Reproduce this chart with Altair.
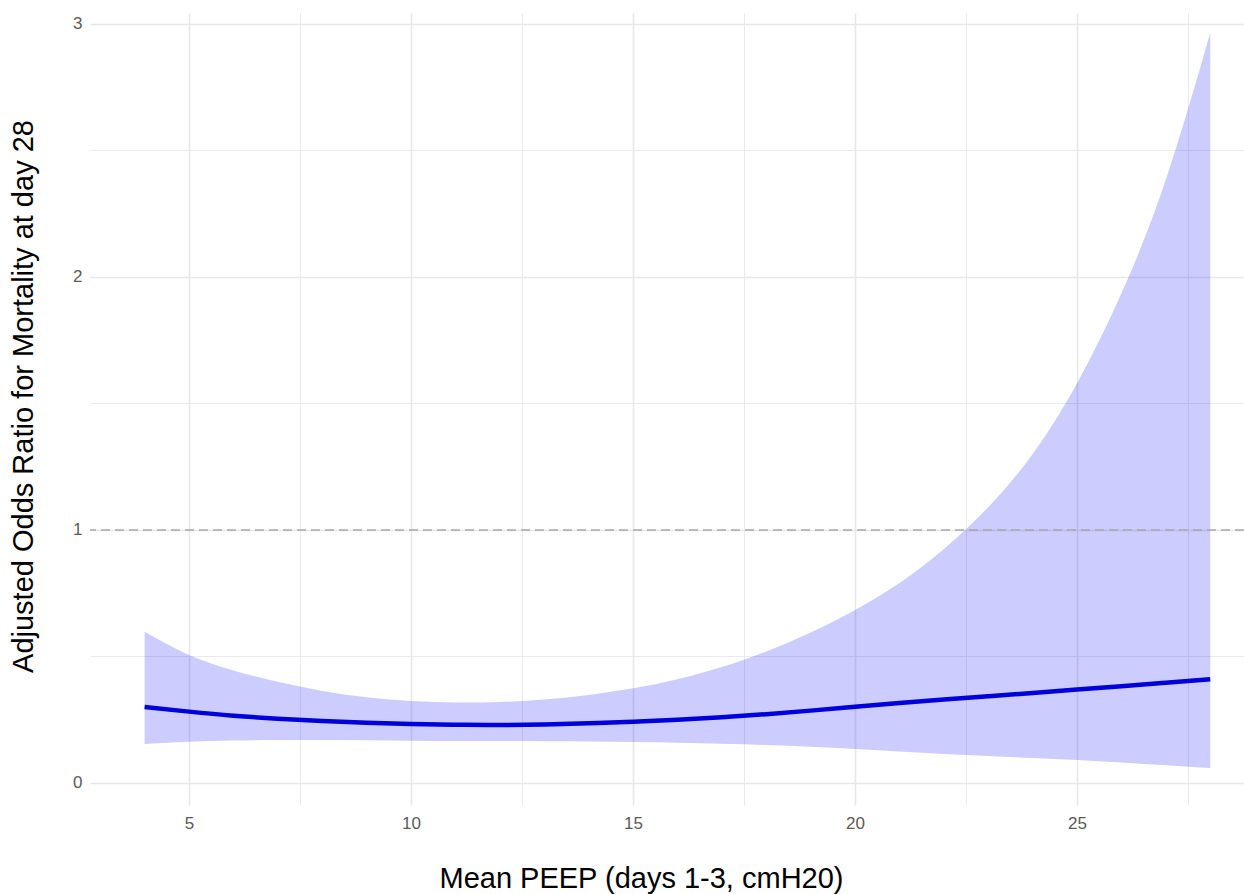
import altair as alt
import pandas as pd

# Mean PEEP (x) and adjusted odds ratio estimates
peep = [4, 5, 6, 7, 8, 9, 10, 11, 12, 13, 14, 15, 16, 17, 18, 19, 20, 21, 22, 23, 24, 25, 26, 27, 28]
odds = [0.300, 0.282, 0.266, 0.254, 0.245, 0.238, 0.233, 0.230, 0.229, 0.231, 0.236, 0.242, 0.250,
        0.260, 0.272, 0.286, 0.301, 0.316, 0.330, 0.343, 0.356, 0.369, 0.382, 0.396, 0.410]
upper = [0.598, 0.506, 0.445, 0.400, 0.364, 0.339, 0.324, 0.318, 0.320, 0.330, 0.348, 0.374, 0.410,
         0.458, 0.520, 0.595, 0.684, 0.790, 0.925, 1.090, 1.300, 1.580, 1.935, 2.385, 2.965]
lower = [0.154, 0.163, 0.168, 0.170, 0.170, 0.169, 0.167, 0.166, 0.166, 0.165, 0.164, 0.162, 0.159,
         0.155, 0.150, 0.143, 0.134, 0.124, 0.115, 0.107, 0.099, 0.091, 0.081, 0.070, 0.059]
reference_line = [1.0]

x_ticks = [2.5, 5, 7.5, 10, 12.5, 15, 17.5, 20, 22.5, 25, 27.5]
y_ticks = [0, 0.5, 1, 1.5, 2, 2.5, 3]

df = pd.DataFrame({"peep": peep, "odds": odds, "upper": upper, "lower": lower})
ref = pd.DataFrame({"ref": reference_line})

FONT = "Liberation Sans"

x_axis = alt.Axis(
    values=x_ticks,
    format="~g",
    labelExpr="datum.value % 5 === 0 ? datum.label : ''",
    title="Mean PEEP (days 1-3, cmH20)",
    titleFont=FONT, titleFontSize=29, titleFontWeight="normal", titleColor="#000000",
    titleX=551, titleY=82, titleAnchor="middle", titleAlign="center", titleBaseline="alphabetic",
    labelFont=FONT, labelFontSize=17, labelColor="#5a5a5a", labelPadding=10,
    ticks=False, domain=False,
    grid=True, gridColor="#e8e8e8",
    gridWidth={"condition": {"test": "datum.value % 5 === 0", "value": 1.6}, "value": 0.9},
)
y_axis = alt.Axis(
    values=y_ticks,
    format="~g",
    labelExpr="datum.value % 1 === 0 ? datum.label : ''",
    title="Adjusted Odds Ratio for Mortality at day 28",
    titleFont=FONT, titleFontSize=29, titleFontWeight="normal", titleColor="#000000",
    titleAngle=270, titleX=-58, titleY=383, titleAnchor="middle", titleAlign="center",
    titleBaseline="alphabetic",
    labelFont=FONT, labelFontSize=17, labelColor="#5a5a5a", labelPadding=8,
    ticks=False, domain=False,
    grid=True, gridColor="#e8e8e8",
    gridWidth={"condition": {"test": "datum.value % 1 === 0", "value": 1.6}, "value": 0.9},
)

x_scale = alt.Scale(domain=[2.77, 28.76], nice=False, zero=False)
y_scale = alt.Scale(domain=[-0.087, 3.043], nice=False, zero=False)

band = alt.Chart(df).mark_area(color="#0000ff", opacity=0.2, interpolate="natural").encode(
    x=alt.X("peep:Q", scale=x_scale, axis=x_axis),
    y=alt.Y("upper:Q", scale=y_scale, axis=y_axis),
    y2="lower:Q",
)

rule = alt.Chart(ref).mark_rule(color="#a8a8a8", strokeWidth=1.4, strokeDash=[9, 5]).encode(
    y=alt.Y("ref:Q", scale=y_scale, axis=y_axis),
)

line = alt.Chart(df).mark_line(color="#0000dd", strokeWidth=4.5, interpolate="natural").encode(
    x=alt.X("peep:Q", scale=x_scale, axis=x_axis),
    y=alt.Y("odds:Q", scale=y_scale, axis=y_axis),
)

chart = alt.layer(band, rule, line).properties(
    width=1154,
    height=792,
    autosize="none",
    padding={"left": 90, "top": 13, "right": 0, "bottom": 89},
    background="#ffffff",
).configure_view(stroke=None)

chart.save("out.html", embed_options={"renderer": "svg", "actions": False})
